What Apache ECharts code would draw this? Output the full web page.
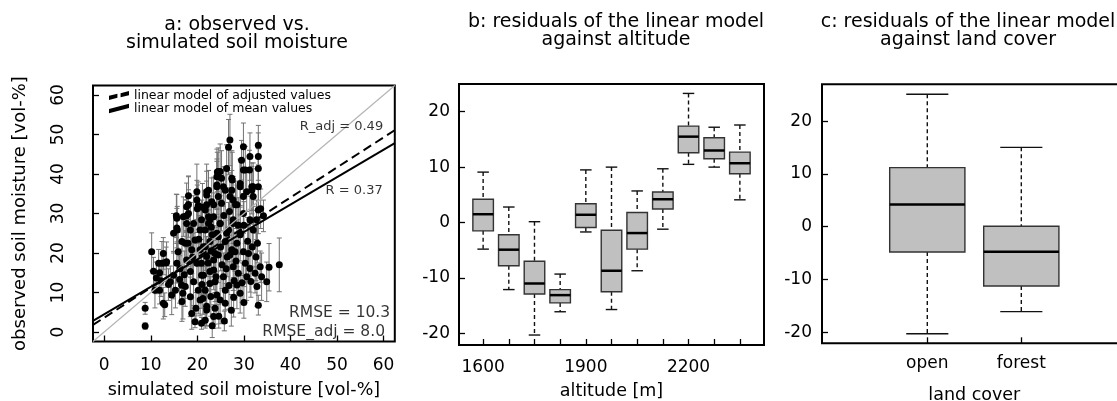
<!DOCTYPE html>
<html><head><meta charset="utf-8">
<script src="https://cdn.jsdelivr.net/npm/echarts@6/dist/echarts.min.js"></script>
<style>html,body{margin:0;padding:0;background:#fff}#c{width:1117px;height:401px}</style>
</head><body><div id="c"></div><script>
const FONT = 'DejaVu Sans';

// ---------- panel a: observed vs simulated (sim, obs, half error bar) ----------
const obsPoints = [
[8.8,6.0,1.5],[8.8,1.5,0.8],[10.2,20.3,4.8],[10.6,15.4,3.5],[11.2,13.7,4],[11.9,15.0,3],[12.4,17.4,5.5],[12.8,17.5,3],
[13.3,17.5,4],[10.9,10.6,4.5],[11.9,10.6,3.5],[12.7,7.3,4],[13.0,6.9,3],[14.5,9.4,5],[14.2,12.7,4],[14.9,14.4,6],
[15.6,17.4,5],[15.3,10.6,4.5],[16.2,13.3,6],[16.6,11.9,5],[16.9,9.8,6.5],[15.9,20.3,5],[15.7,25.8,6],[15.5,29.4,5.5],
[17.7,27.5,6],[17.7,29.4,4],[11.7,17.4,3.5],[12.7,19.9,4],[13.4,17.8,5],[14.9,25.0,5],[15.6,28.8,6],[15.6,26.3,5],
[16.7,22.9,6],[17.4,22.5,5],[18.5,25.8,7],[17.7,31.7,6],[19.9,35.5,7],[22.0,34.7,6],[21.7,30.9,5],[23.5,32.2,7],
[24.5,40.6,6],[25.2,38.9,7],[25.6,36.8,5],[27.0,34.3,6],[27.4,38.9,7],[28.2,32.2,6],[29.2,36.8,7],[30.3,41.0,6],
[30.6,35.5,5],[31.7,36.8,6],[32.0,34.3,7],[33.1,30.9,6],[34.2,29.4,4],[27.7,28.4,6],[29.9,30.0,5],[31.3,28.4,6],
[24.9,27.5,7],[22.7,28.4,6],[26.3,25.0,5],[29.2,25.0,7],[32.0,25.8,6],[32.7,28.4,5],[19.9,33.4,5],[18.1,32.3,7],
[20.2,32.0,6],[22.4,35.9,5],[24.2,37.2,6],[24.2,39.3,7],[24.3,40.5,5],[20.0,31.2,6],[22.0,35.5,7],[23.1,33.0,6],
[18.1,34.5,5],[27.0,48.6,6.5],[26.7,46.8,7],[29.9,46.9,6],[33.1,47.3,5],[33.1,44.4,6],[33.1,41.4,5],[31.3,44.4,6],
[24.9,40.6,7],[26.3,41.4,6],[29.5,43.5,5],[29.9,41.0,6],[31.2,41.0,5],[27.5,38.5,7],[29.2,37.6,6],[27.4,35.9,5],
[26.0,35.9,6],[24.2,36.8,7],[24.5,34.3,6],[27.7,33.4,6],[29.9,34.3,7],[32.0,36.8,6],[33.1,36.8,5],[31.7,35.9,6],
[33.6,31.2,5],[22.0,32.2,6],[25.2,32.6,7],[28.5,32.2,5],[21.1,31.6,6],[37.6,17.0,6.8],[35.4,16.4,6],[34.9,12.7,5],
[33.1,6.8,2.5],[23.2,1.6,3],[32.8,11.5,5],[33.8,14.0,6],[32.4,14.9,5],[31.3,16.1,6],[30.3,17.4,5],[30.6,14.0,6],
[28.8,14.9,5],[28.5,11.9,6],[29.2,9.8,5],[27.7,16.5,6],[27.0,19.5,7],[27.4,20.8,5],[29.9,20.3,6],[31.0,19.9,7],
[28.1,20.3,5],[25.6,14.0,6],[26.0,10.6,5],[24.9,8.1,6],[23.8,6.0,4],[23.5,3.9,3],[22.0,6.5,5],[21.7,10.6,6],
[21.3,14.4,5],[22.7,15.3,6],[23.8,12.7,5],[24.2,9.4,6],[26.0,7.3,5],[23.5,18.2,6],[24.5,19.5,7],[22.0,19.1,5],
[20.9,17.4,6],[21.3,21.6,7],[22.7,22.9,6],[24.5,24.1,5],[26.0,22.9,6],[26.7,25.8,7],[27.7,27.5,6],[29.2,24.6,5],
[28.5,22.5,6],[22.4,27.5,7],[23.5,29.2,6],[20.9,28.4,5],[21.7,25.8,6],[20.6,20.8,7],[17.0,29.2,5],[18.1,30.0,6],
[19.2,27.5,7],[20.6,25.8,6],[19.5,23.3,5],[18.8,20.8,6],[17.7,18.2,7],[19.9,17.4,5],[18.5,15.3,6],[20.9,14.4,5],
[19.2,12.7,6],[17.4,11.5,5],[20.2,10.6,6],[18.5,8.9,5],[20.6,8.1,4],[18.8,4.7,4],[19.5,2.6,1.5],[20.9,2.2,1.5],
[21.7,3.0,2],[16.7,7.7,5],[22.0,5.6,4],[22.7,12.3,6],[23.5,15.7,5],[21.7,21.6,6],[23.8,19.9,7],[24.2,25.0,6],
[22.4,29.2,5],[24.9,27.5,6],[23.2,24.6,5],[25.3,17.0,6],[26.4,19.0,5],[25.0,21.5,6],[27.9,13.0,5],[26.8,11.8,6],
[29.6,12.5,5],[30.0,7.5,4],[27.3,5.5,4],[24.6,4.0,3],[25.8,2.8,2.5],[22.9,9.0,5],[21.0,12.0,6],[19.7,6.0,4],
[20.3,23.5,6],[23.0,26.5,6],[25.7,29.5,7],[26.9,30.5,6],[28.8,27.0,7],[30.8,23.0,6],[31.8,21.5,5],[32.6,19.0,6],
[33.5,16.5,4],[30.0,27.0,6],[28.3,18.0,5],[26.2,16.0,6],[24.0,14.0,5],[23.0,20.5,6],[22.3,17.5,5],[21.2,8.5,4],
[27.8,8.8,5],[31.5,12.8,4],[32.9,22.5,5],[16.3,16.0,5],[18.0,22.5,6],[19.0,19.0,6],[13.8,12.0,4],[12.2,13.0,4],
[17.2,14.5,6]
];
const oneToOne = [[-2.4,-2.4],[62.4,62.4]];
const lmAdjusted = [[-2.4,1.8],[62.4,51.1]];
const lmMean = [[-2.4,2.8],[62.4,47.8]];
const panelATicks = [0,10,20,30,40,50,60];
const corrLabels = [[59.9,51.9,'R_adj = 0.49'],[59.8,35.9,'R = 0.37']];
const rmseLabels = [[61.4,4.8,'RMSE = 10.3'],[60.3,0.1,'RMSE_adj = 8.0']];

// ---------- panel b: residuals vs altitude ----------
const altitudes = [1600,1675,1750,1825,1900,1975,2050,2125,2200,2275,2350];
const altLow  = [-4.8,-12.1,-20.3,-16.1,-1.7,-15.7,-8.7,-1.2,10.5,10.0,4.1];
const altQ1   = [-1.5,-7.8,-12.9,-14.5,-0.9,-12.5,-4.8,2.45,12.6,11.5,8.8];
const altMed  = [1.5,-4.9,-11.0,-13.1,1.4,-8.7,-1.9,4.2,15.5,13.0,10.7];
const altQ3   = [4.2,-2.2,-7.0,-12.1,3.4,-1.4,1.8,5.5,17.4,15.3,12.7];
const altHigh = [9.1,2.8,0.15,-9.3,9.5,10.0,5.7,9.7,23.3,17.2,17.6];
const altLabelPos = [1,5,9];
const residTicks = [-20,-10,0,10,20];

// ---------- panel c: residuals vs land cover ----------
const landCover = ['open','forest'];
const lcLow  = [-20.3,-16.1];
const lcQ1   = [-4.8,-11.25];
const lcMed  = [4.2,-4.75];
const lcQ3   = [11.2,0.1];
const lcHigh = [25.1,15.05];

const txt = {fontFamily: FONT, color: '#000'};

function boxItem(params, api) {
  const x = api.value(0);
  const lo = api.coord([x, api.value(1)]), q1 = api.coord([x, api.value(2)]),
        md = api.coord([x, api.value(3)]), q3 = api.coord([x, api.value(4)]),
        hi = api.coord([x, api.value(5)]);
  const w = api.size([0.8, 0])[0];
  const cx = lo[0], cw = w * 0.28;
  const dash = {stroke: '#111', lineWidth: 1.4, lineDash: [4, 3]};
  const solid = {stroke: '#111', lineWidth: 1.4};
  return {type: 'group', children: [
    {type: 'line', shape: {x1: cx, y1: hi[1], x2: cx, y2: q3[1]}, style: dash},
    {type: 'line', shape: {x1: cx, y1: q1[1], x2: cx, y2: lo[1]}, style: dash},
    {type: 'line', shape: {x1: cx - cw, y1: hi[1], x2: cx + cw, y2: hi[1]}, style: solid},
    {type: 'line', shape: {x1: cx - cw, y1: lo[1], x2: cx + cw, y2: lo[1]}, style: solid},
    {type: 'rect', shape: {x: cx - w / 2, y: q3[1], width: w, height: q1[1] - q3[1]}, style: {fill: '#c0c0c0', stroke: '#333', lineWidth: 1.4}},
    {type: 'line', shape: {x1: cx - w / 2, y1: md[1], x2: cx + w / 2, y2: md[1]}, style: {stroke: '#000', lineWidth: 2.5}}
  ]};
}
function errItem(params, api) {
  const x = api.value(0), y = api.value(1), e = api.value(2);
  const t = api.coord([x, y + e]), b = api.coord([x, y - e]);
  const st = {stroke: '#737373', lineWidth: 1};
  return {type: 'group', children: [
    {type: 'line', shape: {x1: t[0], y1: t[1], x2: b[0], y2: b[1]}, style: st},
    {type: 'line', shape: {x1: t[0] - 2.5, y1: t[1], x2: t[0] + 2.5, y2: t[1]}, style: st},
    {type: 'line', shape: {x1: b[0] - 2.5, y1: b[1], x2: b[0] + 2.5, y2: b[1]}, style: st}
  ]};
}

const tickStyle = {show: true, inside: true, length: 6, lineStyle: {color: '#000', width: 1.3}};
const noLine = {show: false, onZero: false};
const gridStyle = {show: true, borderColor: '#000', borderWidth: 2, backgroundColor: 'transparent', containLabel: false, outerBoundsMode: 'none'};

const altBoxes = altitudes.map((a, i) => [i + 1, altLow[i], altQ1[i], altMed[i], altQ3[i], altHigh[i]]);
const lcBoxes = landCover.map((c, i) => [i + 1, lcLow[i], lcQ1[i], lcMed[i], lcQ3[i], lcHigh[i]]);

const option = {
  backgroundColor: '#fff',
  animation: false,
  grid: [
    Object.assign({left: 93, top: 85.5, width: 301.8, height: 256}, gridStyle),
    Object.assign({left: 459, top: 84, width: 305, height: 261}, gridStyle),
    Object.assign({left: 822, top: 84.3, width: 304.6, height: 259}, gridStyle)
  ],
  legend: {
    left: 109, top: 89, orient: 'vertical', itemGap: 0, padding: 0,
    itemWidth: 20, itemHeight: 11,
    textStyle: {fontFamily: FONT, fontSize: 12.5, color: '#000'},
    data: [
      {name: 'linear model of adjusted values', icon: 'path://M0,7 L8,5 L8,9 L0,11 Z M11,4.5 L19,2.5 L19,6.5 L11,8.5 Z'},
      {name: 'linear model of mean values', icon: 'path://M0,8 L19,3 L19,7 L0,12 Z'}
    ]
  },
  xAxis: [
    {gridIndex: 0, type: 'value', min: -2.4, max: 62.4, axisLine: noLine, splitLine: {show: false},
     axisTick: Object.assign({customValues: panelATicks}, tickStyle),
     axisLabel: Object.assign({customValues: panelATicks, margin: 16, fontSize: 17}, txt),
     name: 'simulated soil moisture [vol-%]', nameLocation: 'middle', nameGap: 40,
     nameTextStyle: Object.assign({fontSize: 17.5}, txt)},
    {gridIndex: 1, type: 'value', min: 0.06, max: 11.94, axisLine: noLine, splitLine: {show: false},
     axisTick: Object.assign({customValues: altitudes.map((a, i) => i + 1)}, tickStyle),
     axisLabel: Object.assign({customValues: altLabelPos, margin: 14, fontSize: 17,
       formatter: v => String(altitudes[Math.round(v) - 1])}, txt),
     name: 'altitude [m]', nameLocation: 'middle', nameGap: 37,
     nameTextStyle: Object.assign({fontSize: 17.5}, txt)},
    {gridIndex: 2, type: 'value', min: -0.12, max: 3.12, axisLine: noLine, splitLine: {show: false},
     axisTick: Object.assign({customValues: [1, 2]}, tickStyle),
     axisLabel: Object.assign({customValues: [1, 2], margin: 12, fontSize: 17,
       formatter: v => landCover[Math.round(v) - 1]}, txt),
     name: 'land cover', nameLocation: 'middle', nameGap: 43, nameTextStyle: Object.assign({fontSize: 17.5}, txt)}
  ],
  yAxis: [
    {gridIndex: 0, type: 'value', min: -2.4, max: 62.4, axisLine: noLine, splitLine: {show: false},
     axisTick: Object.assign({customValues: panelATicks}, tickStyle),
     axisLabel: Object.assign({customValues: panelATicks, margin: 26, fontSize: 17, rotate: 90}, txt),
     name: 'observed soil moisture [vol-%]', nameLocation: 'middle', nameGap: 64,
     nameTextStyle: Object.assign({fontSize: 18}, txt)},
    {gridIndex: 1, type: 'value', min: -22.1, max: 25.0, axisLine: noLine, splitLine: {show: false},
     axisTick: Object.assign({customValues: residTicks}, tickStyle),
     axisLabel: Object.assign({customValues: residTicks, margin: 9, fontSize: 17}, txt)},
    {gridIndex: 2, type: 'value', min: -22.1, max: 27.0, axisLine: noLine, splitLine: {show: false},
     axisTick: Object.assign({customValues: residTicks}, tickStyle),
     axisLabel: Object.assign({customValues: residTicks, margin: 10, fontSize: 17}, txt)}
  ],
  graphic: [
    {type: 'text', x: 237, y: 16, style: {text: 'a: observed vs.\nsimulated soil moisture', fontSize: 19, lineHeight: 18, align: 'center', verticalAlign: 'top', fill: '#000', fontFamily: FONT}},
    {type: 'text', x: 616, y: 13, style: {text: 'b: residuals of the linear model\nagainst altitude', fontSize: 19, lineHeight: 18, align: 'center', verticalAlign: 'top', fill: '#000', fontFamily: FONT}},
    {type: 'text', x: 968, y: 13, style: {text: 'c: residuals of the linear model\nagainst land cover', fontSize: 19, lineHeight: 18, align: 'center', verticalAlign: 'top', fill: '#000', fontFamily: FONT}}
  ],
  series: [
    {type: 'custom', xAxisIndex: 0, yAxisIndex: 0, renderItem: errItem, data: obsPoints, encode: {x: 0, y: 1}, clip: true, z: 1, silent: true},
    {type: 'scatter', xAxisIndex: 0, yAxisIndex: 0, data: obsPoints.map(p => [p[0], p[1]]), symbolSize: 7,
     itemStyle: {color: '#000', opacity: 1}, z: 2, silent: true},
    {type: 'line', name: '1:1', xAxisIndex: 0, yAxisIndex: 0, data: oneToOne, symbol: 'none', z: 3,
     lineStyle: {color: '#b5b5b5', width: 1.2}, silent: true},
    {type: 'line', name: 'linear model of adjusted values', xAxisIndex: 0, yAxisIndex: 0, data: lmAdjusted, symbol: 'none', z: 4,
     lineStyle: {color: '#000', width: 2, type: [9, 5]}, itemStyle: {color: '#000'}, silent: true},
    {type: 'line', name: 'linear model of mean values', xAxisIndex: 0, yAxisIndex: 0, data: lmMean, symbol: 'none', z: 4,
     lineStyle: {color: '#000', width: 2}, itemStyle: {color: '#000'}, silent: true},
    {type: 'scatter', xAxisIndex: 0, yAxisIndex: 0, data: corrLabels, symbolSize: 0, z: 5, silent: true,
     label: {show: true, position: 'left', distance: 0, formatter: p => p.data[2], fontFamily: FONT, fontSize: 13, color: '#000'}},
    {type: 'scatter', xAxisIndex: 0, yAxisIndex: 0, data: rmseLabels, symbolSize: 0, z: 5, silent: true,
     label: {show: true, position: 'left', distance: 0, formatter: p => p.data[2], fontFamily: FONT, fontSize: 15.5, color: '#000'}},
    {type: 'custom', xAxisIndex: 1, yAxisIndex: 1, renderItem: boxItem, data: altBoxes, encode: {x: 0, y: [1, 2, 3, 4, 5]}, silent: true},
    {type: 'custom', xAxisIndex: 2, yAxisIndex: 2, renderItem: boxItem, data: lcBoxes, encode: {x: 0, y: [1, 2, 3, 4, 5]}, silent: true}
  ]
};
const chart = echarts.init(document.getElementById('c'));
chart.setOption(option);
</script></body></html>
